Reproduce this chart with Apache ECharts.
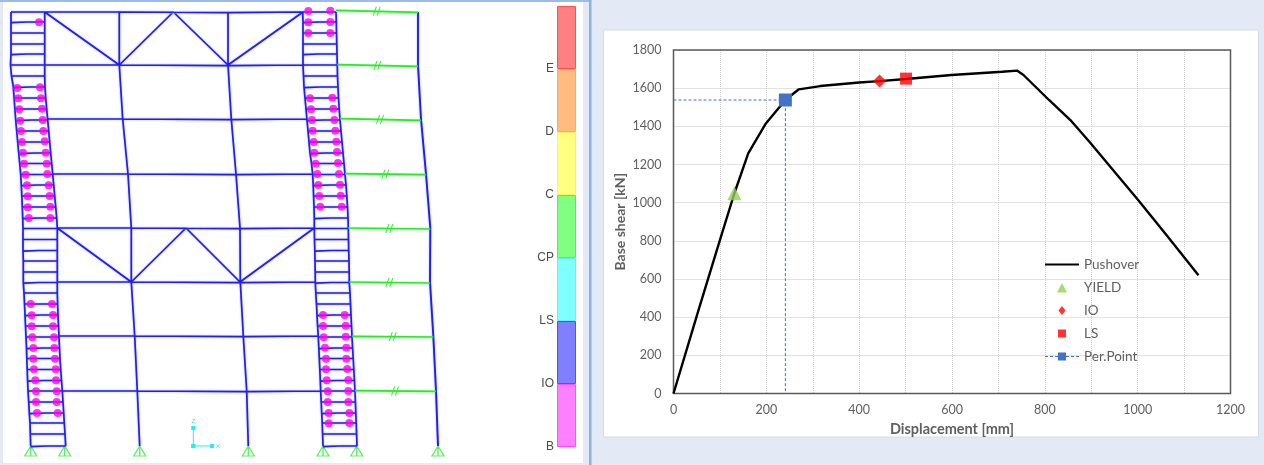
<!DOCTYPE html>
<html><head><meta charset="utf-8">
<style>html,body{margin:0;padding:0;background:#E3EAF6}#c{width:1264px;height:465px}#c canvas{filter:blur(.45px)}</style>
<script src="https://cdn.jsdelivr.net/npm/echarts@6/dist/echarts.min.js"></script>
</head><body><div id="c"></div>
<script>
// ---- Pushover curve ----
const pushover = [[0,0],[56,454],[100,804],[131,1048],[161,1258],[199,1415],[241,1538],[270,1594],[316,1611],[400,1630],[444,1637],[501,1648],[599,1669],[708,1686],[740,1692],[754,1669],[809,1538],[855,1433],[896,1319],[1001,1014],[1065,821],[1131,620]];
const yieldPoint = [[131,1050]];
const ioPoint = [[444,1637]];
const lsPoint = [[501,1650]];
const perPoint = [241,1538];
// ---- Colour scale ----
const hingeStates = ['B','IO','LS','CP','C','D','E'];
const stateFill = ['#FF80FF','#8080FF','#80FFFF','#80FF80','#FFFF80','#FFBB80','#FF8080'];
const stateEdge = ['#FF50FF','#5050FF','#60F0FF','#50F050','#FFF060','#FFA860','#FF5050'];
// ---- Deformed frame (drawing units) ----
const floorY = [12,65,119,174,228,282,336,391,446];
const colCX = [119.3,119.3,122.7,128,131.3,131.3,134.7,137.3,139.7];
const colDX = [228,228,231.3,236,240,240.3,243.3,246.7,248.3];
const colGX = [418,418,421,426,430.3,430,433.3,436,438];
const rungY = [12,22,33,44,54,65,76,87,98,109,120,131,142,153,163.5,174.5,185,196,207,218,228.5,239.5,250.5,261,272,282.5,293,304,315,326,337,348,358.5,369.5,380.5,391,402,413,423,434,446];
const wallAX = [11,11,11,11,11,10.5,11.5,13.3,14.1,14.9,15.7,16.7,17.7,18.7,19.7,20.7,21.3,21.8,22.3,22.7,23,23,23,23.3,23.3,23.3,24,24.5,25,25.5,26,26.5,26.8,27.2,27.6,28,28.7,29.3,30,30.3,30.7];
const wallBX = [44.7,44.7,44.7,44.7,44.7,44.7,44.7,45,45.7,46.7,47.7,48.7,49.7,50.7,51.7,52.7,53.7,54.7,55.7,56.7,57.3,57.3,57.3,57.3,57.3,57.3,57.3,57.6,58,58.5,59,59.5,60,60.7,61.5,62.3,63,63.7,64.3,65,65.7];
const wallEX = [302.7,303,303,303,303,303,303.5,304,305,306,307,308,309,310,311.5,312.7,313.2,313.6,314,314.3,314.3,314.5,314.8,315,315.2,315.3,315.8,316.5,317,317.6,318.3,318.8,319.3,319.8,320.3,320.7,321.2,321.7,322.2,322.6,323];
const wallFX = [336,336.3,336.5,336.8,337,337.3,337.5,338,338.5,339.2,340,341,342,343,344,345,346,346.8,347.5,348,348.3,348.5,348.7,349,349.2,349.3,350,350.5,351,351.5,352,352.6,353.2,353.8,354.4,355,355.4,355.8,356.2,356.6,357];
const braceUpper = [[44.7,12],[119.3,65],[173.3,12],[228,65],[303,12]];
const braceLower = [[57.3,228],[131.3,282],[186,228],[240,282],[314.3,228]];
const linkTickX = [376.7,377.3,380,385.3,389.3,389.3,392.7,395];
const linkLeftY = [10.3,64.7,118.7,173.7,228,282,336.3,390.7];
const linkRightY = [12.3,66.3,120.3,174.7,229,283,337,391.3];
const linkLeftX = [336,337.3,340,345,348.3,349.3,352,355];
const hingesLeftOuter = [[17.3,88],[18.3,98.3],[19.3,109.3],[20.3,120.7],[21,131],[22,142],[23,152.7],[24,163.7],[25.7,174.7],[27,185.3],[27.7,196.3],[27.7,207.3],[28.7,218],
  [30.7,304],[31.7,315.3],[31.7,326.3],[32.3,337.3],[33.3,348],[33.3,358.7],[34,369.3],[35.3,380.3],[36,391.3],[36,402],[37,413]];
const hingesLeftInner = [[39,22.3],[40,87.3],[41,98.3],[42,108.7],[42.7,120],[43.3,131],[44.7,141.3],[45.7,152.7],[46.7,163.7],[47.3,174],[48.7,185.3],[49.7,196],[50.3,206.7],[50.3,218],
  [52,304],[53,315],[53,326.3],[54,337.3],[54.3,348],[55,358.7],[55.7,369.3],[56,380.3],[56.7,391.3],[56.7,402],[57.7,413]];
const hingesRightOuter = [[308.3,11],[308.3,22.3],[308.3,33],[310,98.3],[311,109.3],[312,120],[312.7,130.7],[313.7,142],[314.3,152.7],[315.7,163.7],[317.3,174],[318.3,185],[319.3,196],[320.3,206.7],
  [323,315],[323,326],[323.7,337.3],[325,347.7],[326,358.7],[326,369.3],[326.7,380.3],[327.7,391.3],[327.7,402],[328.7,413],[328.7,423.3]];
const hingesRightInner = [[330.3,10.7],[330.3,22],[330.3,33],[332.3,97.7],[333.3,108.7],[334.3,120],[335.3,130.7],[336.3,141.7],[337,152],[338,163],[339,174],[340,184.7],[340.7,195.7],[341.7,206.7],
  [344.7,315],[345.7,325.7],[345.7,336.7],[346.3,347.7],[346.3,358.7],[347.3,369],[348.3,380],[348.3,391],[348.3,402],[349.3,413],[349.3,423]];
const supportX = [30.7,64.7,139.7,248.3,323,356.7,438];
const triadZ = [[193.3,428],[193.3,446]];
const triadX = [[193.3,446],[212,446]];

// ---- Build polylines ----
const GAP = ['-','-'];
function join(lines){const o=[];lines.forEach(l=>{o.push(...l,GAP)});return o;}
const col=(xs,ys)=>xs.map((x,i)=>[x,ys[i]]);
const blueLines=[col(wallAX,rungY),col(wallBX,rungY),col(wallEX,rungY),col(wallFX,rungY),col(colCX,floorY),col(colDX,floorY),braceUpper,braceLower];
rungY.forEach((y,i)=>{blueLines.push([[wallAX[i],y+(i%3===1?0.6:0)],[wallAX[i]+16,y],[wallBX[i],y]]);blueLines.push([[wallEX[i],y+(i%3===1?0.6:0)],[wallEX[i]+16,y],[wallFX[i],y]]);});
floorY.slice(0,8).forEach((y,i)=>{blueLines.push([[wallBX[i*5],y],[colCX[i],y],[colDX[i],y+0.6],[wallEX[i*5],y]]);});
const colG=col(colGX,floorY);
const greenLines=linkLeftY.map((y,i)=>[[linkLeftX[i],y],[colGX[i],linkRightY[i]]]);
const hinges=[...hingesLeftOuter,...hingesLeftInner,...hingesRightOuter,...hingesRightInner];

const font='Lato, "Open Sans", sans-serif', txt='#5f5f5f';
const halo={shadowColor:'rgba(40,40,255,.45)',shadowBlur:2};
const frameBase={type:'line',xAxisIndex:0,yAxisIndex:0,symbol:'none',silent:true,animation:false,connectNulls:false};
// legend icons drawn in a 34x11 box; the corner specks hold the box size
const box='M0 0L0 .01L.01 0ZM34 11L34 10.99L33.99 11Z';
const iconLine='path://'+box+'M0 4.4H34V6.6H0Z';
const iconTri='path://'+box+'M17 1L22 10.5L12 10.5Z';
const iconDia='path://'+box+'M17 1L20.5 5.5L17 10L13.5 5.5Z';
const iconSq='path://'+box+'M13 1.5H21V9.5H13Z';
const iconPer='path://'+box+'M13 1.5H21V9.5H13ZM0 5H3V6H0ZM5 5H8V6H5ZM10 5H13V6H10ZM21 5H24V6H21ZM26 5H29V6H26ZM31 5H34V6H31Z';

const bars=hingeStates.map((s,i)=>({type:'bar',name:'state '+s,stack:'scale',xAxisIndex:1,yAxisIndex:1,barWidth:'100%',silent:true,animation:false,
  data:[1],itemStyle:{color:stateFill[i],borderColor:stateEdge[i],borderWidth:1}}));

const option={
 backgroundColor:'#E3EAF6',animation:false,
 graphic:[
  {type:'rect',shape:{x:3,y:2,width:580,height:461},style:{fill:'#fff'},z:-1,silent:true},
  {type:'rect',shape:{x:0,y:0,width:590,height:2},style:{fill:'#9DBBE6'},z:-1,silent:true},
  {type:'rect',shape:{x:589,y:0,width:2.5,height:465},style:{fill:'#8DB0E0'},z:-1,silent:true},
  {type:'rect',shape:{x:603.5,y:30,width:655,height:407},style:{fill:'#fff',stroke:'#D6DCE6',lineWidth:1},z:-1,silent:true}
 ],
 grid:[
  {left:0,top:0,width:590,height:465,show:false},
  {left:557,top:6,width:19,height:441,show:false},
  {left:673.5,top:50,width:557,height:343.5,show:true,borderColor:'#5a5a5a',borderWidth:1.5,z:3}
 ],
 xAxis:[
  {gridIndex:0,type:'value',min:0,max:590,show:false},
  {gridIndex:1,type:'category',data:['scale'],show:false},
  {gridIndex:2,type:'value',min:0,max:1200,interval:100,name:'Displacement [mm]',nameLocation:'middle',nameGap:26,
   nameTextStyle:{fontFamily:font,fontWeight:'bold',fontSize:14.5,color:txt},
   axisLine:{show:false},axisTick:{show:false},
   splitLine:{show:true,lineStyle:{type:'dotted',color:'#cfcfcf',width:1}},
   axisLabel:{fontFamily:font,fontSize:12.5,color:txt,margin:10,formatter:v=>v%200===0?String(v):''}}
 ],
 yAxis:[
  {gridIndex:0,type:'value',min:0,max:465,inverse:true,show:false},
  {gridIndex:1,type:'value',min:0,max:7,interval:1,
   axisLine:{show:false},axisTick:{show:false},splitLine:{show:false},
   axisLabel:{fontFamily:'"Liberation Sans",sans-serif',fontSize:12,color:'#4a4a4a',margin:3,padding:[0,0,5,0],showMinLabel:true,showMaxLabel:false,formatter:(v)=>hingeStates[v]||''}},
  {gridIndex:2,type:'value',min:0,max:1800,interval:200,name:'Base shear [kN]',nameLocation:'middle',nameGap:46,
   nameTextStyle:{fontFamily:font,fontWeight:'bold',fontSize:14,color:txt},
   axisLine:{show:false},axisTick:{show:false},
   splitLine:{show:true,lineStyle:{type:'dotted',color:'#c4c4c4',width:1}},
   axisLabel:{fontFamily:font,fontSize:12.5,color:txt,margin:12,formatter:v=>String(v)}}
 ],
 legend:{left:1045,top:257.5,padding:0,orient:'vertical',itemWidth:34,itemHeight:11,itemGap:9,selectedMode:false,
  data:[{name:'Pushover',icon:iconLine},{name:'YIELD',icon:iconTri},{name:'IO',icon:iconDia},{name:'LS',icon:iconSq},{name:'Per.Point',icon:iconPer}],
  textStyle:{fontFamily:font,fontSize:13.5,color:txt}},
 series:[
  {...frameBase,name:'frame',data:join(blueLines),lineStyle:{color:'#2020E8',width:1.7,...halo}},
  {...frameBase,name:'columnG',data:colG,lineStyle:{color:'#2020E8',width:1.9,...halo}},
  {...frameBase,name:'links',data:join(greenLines),lineStyle:{color:'#22EE22',width:1.7,shadowColor:'rgba(40,255,40,.4)',shadowBlur:2}},
  {type:'scatter',name:'linkTicks',xAxisIndex:0,yAxisIndex:0,silent:true,animation:false,symbol:'path://M0 10L4 0M5 10L9 0',symbolSize:[7,9],
   data:linkTickX.map((x,i)=>[x,(linkLeftY[i]+linkRightY[i])/2]),itemStyle:{color:'transparent',borderColor:'#22DD22',borderWidth:1.2}},
  {type:'scatter',name:'supports',xAxisIndex:0,yAxisIndex:0,silent:true,animation:false,symbol:'path://M0 10L6 0L12 10ZM6 0L6 10',symbolSize:[12,10],
   data:supportX.map(x=>[x,451]),itemStyle:{color:'transparent',borderColor:'#44E844',borderWidth:1.3}},
  {type:'scatter',name:'hinges',xAxisIndex:0,yAxisIndex:0,silent:true,animation:false,symbol:'circle',symbolSize:8,z:4,
   data:hinges,itemStyle:{color:'#FF00EE'}},
  {...frameBase,name:'triadZ',data:triadZ,symbol:['triangle','none'],symbolSize:4,itemStyle:{color:'#22EEF5'},lineStyle:{color:'#22EEF5',width:1},
   label:{show:true,formatter:p=>p.dataIndex===0?'Z':'',position:'top',fontSize:6,color:'#22EEF5',fontFamily:'"Liberation Sans"',distance:2}},
  {...frameBase,name:'triadX',data:triadX,symbol:['none','triangle'],symbolRotate:-90,symbolSize:4,itemStyle:{color:'#22EEF5'},lineStyle:{color:'#22EEF5',width:1},
   label:{show:true,formatter:p=>p.dataIndex===1?'X':'',position:'right',fontSize:6,color:'#22EEF5',fontFamily:'"Liberation Sans"',distance:2}},
  ...bars,
  {type:'line',name:'Per.Point',xAxisIndex:2,yAxisIndex:2,silent:true,z:5,symbol:'square',symbolSize:13,
   data:[{value:[0,perPoint[1]],symbol:'none'},{value:perPoint},{value:[perPoint[0],0],symbol:'none'}],
   itemStyle:{color:'#4472C4'},lineStyle:{color:'#4472C4',width:1,type:[3,2]}},
  {type:'line',name:'Pushover',xAxisIndex:2,yAxisIndex:2,silent:true,z:4,symbol:'none',data:pushover,
   lineStyle:{color:'#000',width:2.4},itemStyle:{color:'#000'}},
  {type:'scatter',name:'YIELD',xAxisIndex:2,yAxisIndex:2,silent:true,z:6,symbol:'triangle',symbolSize:14,data:yieldPoint,itemStyle:{color:'#92D050'}},
  {type:'scatter',name:'IO',xAxisIndex:2,yAxisIndex:2,silent:true,z:6,symbol:'diamond',symbolSize:13,data:ioPoint,itemStyle:{color:'#FF0000'}},
  {type:'scatter',name:'LS',xAxisIndex:2,yAxisIndex:2,silent:true,z:6,symbol:'rect',symbolSize:12,data:lsPoint,itemStyle:{color:'#FF0000'}}
 ]
};
echarts.init(document.getElementById('c'),null,{renderer:'canvas'}).setOption(option);
</script></body></html>
